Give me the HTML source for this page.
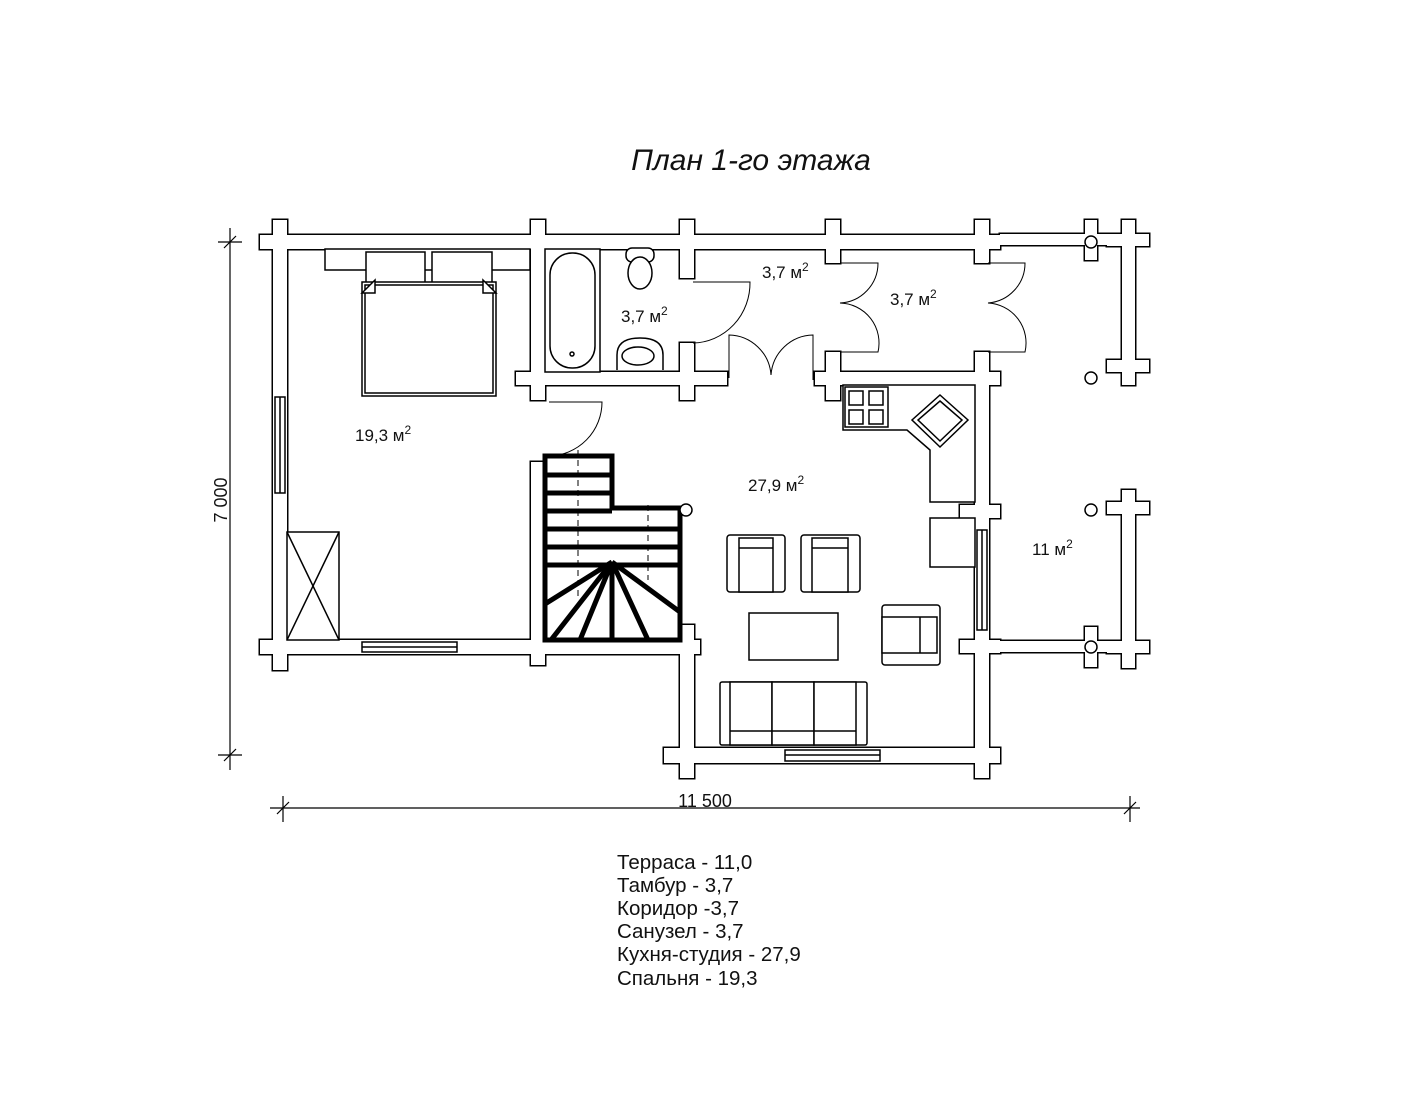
<!DOCTYPE html>
<html><head><meta charset="utf-8"><style>
html,body{margin:0;padding:0;background:#fff}
svg{display:block}
text{font-family:"Liberation Sans",sans-serif;fill:#111}
</style></head><body>
<svg width="1422" height="1100" viewBox="0 0 1422 1100" xmlns="http://www.w3.org/2000/svg">
<defs>
<g id="walls">
  <rect x="260" y="235" width="740" height="14"/>
  <rect x="273" y="220" width="14" height="450"/>
  <rect x="260" y="640" width="440" height="14"/>
  <rect x="531" y="220" width="14" height="180"/>
  <rect x="680" y="220" width="14" height="58"/>
  <rect x="826" y="220" width="14" height="43"/>
  <rect x="975" y="220" width="14" height="43"/>
  <rect x="516" y="372" width="211" height="13"/>
  <rect x="680" y="343" width="14" height="57"/>
  <rect x="815" y="372" width="185" height="13"/>
  <rect x="826" y="352" width="14" height="48"/>
  <rect x="975" y="352" width="14" height="426"/>
  <rect x="960" y="505" width="40" height="13"/>
  <rect x="960" y="640" width="40" height="13"/>
  <rect x="531" y="462" width="14" height="203"/>
  <rect x="680" y="625" width="14" height="153"/>
  <rect x="664" y="640" width="36" height="13"/>
  <rect x="664" y="748" width="336" height="15"/>
  <rect x="1000" y="234" width="148" height="11"/>
  <rect x="1085" y="220" width="12" height="40"/>
  <rect x="1122" y="220" width="13" height="165"/>
  <rect x="1107" y="234" width="42" height="12"/>
  <rect x="1107" y="360" width="42" height="12"/>
  <rect x="1000" y="641" width="148" height="11"/>
  <rect x="1085" y="627" width="12" height="40"/>
  <rect x="1122" y="490" width="13" height="178"/>
  <rect x="1107" y="502" width="42" height="12"/>
  <rect x="1107" y="641" width="42" height="12"/>
</g>
</defs>
<text x="751" y="170" font-size="30" font-style="italic" text-anchor="middle">План 1-го этажа</text>

<use href="#walls" fill="none" stroke="#000" stroke-width="3"/>
<use href="#walls" fill="#fff"/>

<g fill="#fff" stroke="#000" stroke-width="1.5">
  <rect x="275" y="397" width="10" height="96"/><line x1="280" y1="397" x2="280" y2="493"/>
  <rect x="362" y="642" width="95" height="10"/><line x1="362" y1="647" x2="457" y2="647"/>
  <rect x="977" y="530" width="10" height="100"/><line x1="982" y1="530" x2="982" y2="630"/>
  <rect x="785" y="750" width="95" height="11"/><line x1="785" y1="755" x2="880" y2="755"/>
  <rect x="325" y="249" width="205" height="21"/>
  <rect x="366" y="252" width="59" height="32"/>
  <rect x="432" y="252" width="60" height="32"/>
  <rect x="362" y="282" width="134" height="114"/>
  <rect x="365" y="285" width="128" height="108"/>
  <polygon points="362,293 375,280 375,293"/><polygon points="496,293 483,280 483,293"/>
  <rect x="287" y="532" width="52" height="108"/>
  <line x1="287" y1="532" x2="339" y2="640"/><line x1="339" y1="532" x2="287" y2="640"/>
  <rect x="545" y="249" width="55" height="123"/>
  <rect x="550" y="253" width="45" height="115" rx="22"/>
  <circle cx="572" cy="354" r="2"/>
  <rect x="626" y="248" width="28" height="14" rx="6"/>
  <ellipse cx="640" cy="273" rx="12" ry="16"/>
  <path d="M617,370 L617,355 Q617,338 640,338 Q663,338 663,355 L663,370"/>
  <ellipse cx="638" cy="356" rx="16" ry="9"/>
  <path d="M843,385 L975,385 L975,502 L930,502 L930,450 L907,430 L843,430 Z"/>
  <rect x="845" y="387" width="43" height="40"/>
  <rect x="849" y="391" width="14" height="14"/><rect x="869" y="391" width="14" height="14"/>
  <rect x="849" y="410" width="14" height="14"/><rect x="869" y="410" width="14" height="14"/>
  <polygon points="940,395 968,420 940,447 912,420"/>
  <polygon points="940,401 962,420 940,441 918,420"/>
  <rect x="930" y="518" width="45" height="49"/>
  <rect x="727" y="535" width="58" height="57" rx="3"/><rect x="739" y="538" width="34" height="54"/><line x1="739" y1="548" x2="773" y2="548"/>
  <rect x="801" y="535" width="59" height="57" rx="3"/><rect x="812" y="538" width="36" height="54"/><line x1="812" y1="548" x2="848" y2="548"/>
  <rect x="749" y="613" width="89" height="47"/>
  <rect x="882" y="605" width="58" height="60" rx="3"/><rect x="882" y="617" width="55" height="36"/><line x1="920" y1="617" x2="920" y2="653"/>
  <rect x="720" y="682" width="147" height="63" rx="2"/>
  <rect x="730" y="682" width="42" height="63"/><rect x="772" y="682" width="42" height="63"/><rect x="814" y="682" width="42" height="63"/>
  <line x1="730" y1="731" x2="856" y2="731"/>
</g>

<g fill="none" stroke="#000" stroke-width="1">
  <path d="M693,282 L750,282 A58,60 0 0 1 693,343"/>
  <path d="M729,378 L729,335 A43,43 0 0 1 771,375 A43,43 0 0 1 813,335 L813,380"/>
  <path d="M840,263 L878,263 A40,40 0 0 1 840,303 A40,40 0 0 1 878,352 L840,352"/>
  <path d="M988,263 L1025,263 A40,40 0 0 1 988,303 A40,40 0 0 1 1025,352 L988,352"/>
  <path d="M549,402 L602,402 A54,54 0 0 1 549,456"/>
</g>

<g fill="none" stroke="#000" stroke-width="5">
  <path d="M545,456 L612,456 L612,508 L680,508 L680,640 L545,640 Z"/>
  <line x1="545" y1="475" x2="612" y2="475"/><line x1="545" y1="493" x2="612" y2="493"/>
  <line x1="545" y1="511" x2="612" y2="511"/><line x1="545" y1="529" x2="680" y2="529"/>
  <line x1="545" y1="547" x2="680" y2="547"/><line x1="545" y1="565" x2="680" y2="565"/>
  <line x1="612" y1="562" x2="545" y2="604"/><line x1="612" y1="562" x2="551" y2="640"/>
  <line x1="612" y1="562" x2="580" y2="640"/><line x1="612" y1="562" x2="612" y2="640"/>
  <line x1="612" y1="562" x2="648" y2="640"/><line x1="612" y1="562" x2="680" y2="612"/>
</g>
<g stroke="#000" stroke-width="1" stroke-dasharray="6,4" fill="none">
  <line x1="578" y1="450" x2="578" y2="600"/><line x1="648" y1="505" x2="648" y2="580"/>
</g>
<circle cx="686" cy="510" r="6" fill="#fff" stroke="#000" stroke-width="1.5"/>

<g fill="#fff" stroke="#000" stroke-width="1.5">
  <circle cx="1091" cy="242" r="6"/><circle cx="1091" cy="378" r="6"/>
  <circle cx="1091" cy="510" r="6"/><circle cx="1091" cy="647" r="6"/>
</g>

<g font-size="17">
  <text x="355" y="441">19,3 м<tspan font-size="12" dy="-7">2</tspan></text>
  <text x="621" y="322">3,7 м<tspan font-size="12" dy="-7">2</tspan></text>
  <text x="762" y="278">3,7 м<tspan font-size="12" dy="-7">2</tspan></text>
  <text x="890" y="305">3,7 м<tspan font-size="12" dy="-7">2</tspan></text>
  <text x="748" y="491">27,9 м<tspan font-size="12" dy="-7">2</tspan></text>
  <text x="1032" y="555">11 м<tspan font-size="12" dy="-7">2</tspan></text>
</g>

<g stroke="#000" stroke-width="1.2">
  <line x1="230" y1="228" x2="230" y2="770"/>
  <line x1="218" y1="242" x2="242" y2="242"/><line x1="218" y1="755" x2="242" y2="755"/>
  <line x1="224" y1="248" x2="236" y2="236"/><line x1="224" y1="761" x2="236" y2="749"/>
  <line x1="270" y1="808" x2="1140" y2="808"/>
  <line x1="283" y1="796" x2="283" y2="822"/><line x1="1130" y1="796" x2="1130" y2="822"/>
  <line x1="277" y1="814" x2="289" y2="802"/><line x1="1124" y1="814" x2="1136" y2="802"/>
</g>
<text x="705" y="807" font-size="18" text-anchor="middle">11 500</text>
<text font-size="18" text-anchor="middle" transform="translate(227,500) rotate(-90)">7 000</text>

<g font-size="20.5">
  <text x="617" y="869">Терраса - 11,0</text>
  <text x="617" y="892">Тамбур - 3,7</text>
  <text x="617" y="915">Коридор -3,7</text>
  <text x="617" y="938">Санузел - 3,7</text>
  <text x="617" y="961">Кухня-студия - 27,9</text>
  <text x="617" y="985">Спальня - 19,3</text>
</g>
</svg>
</body></html>
